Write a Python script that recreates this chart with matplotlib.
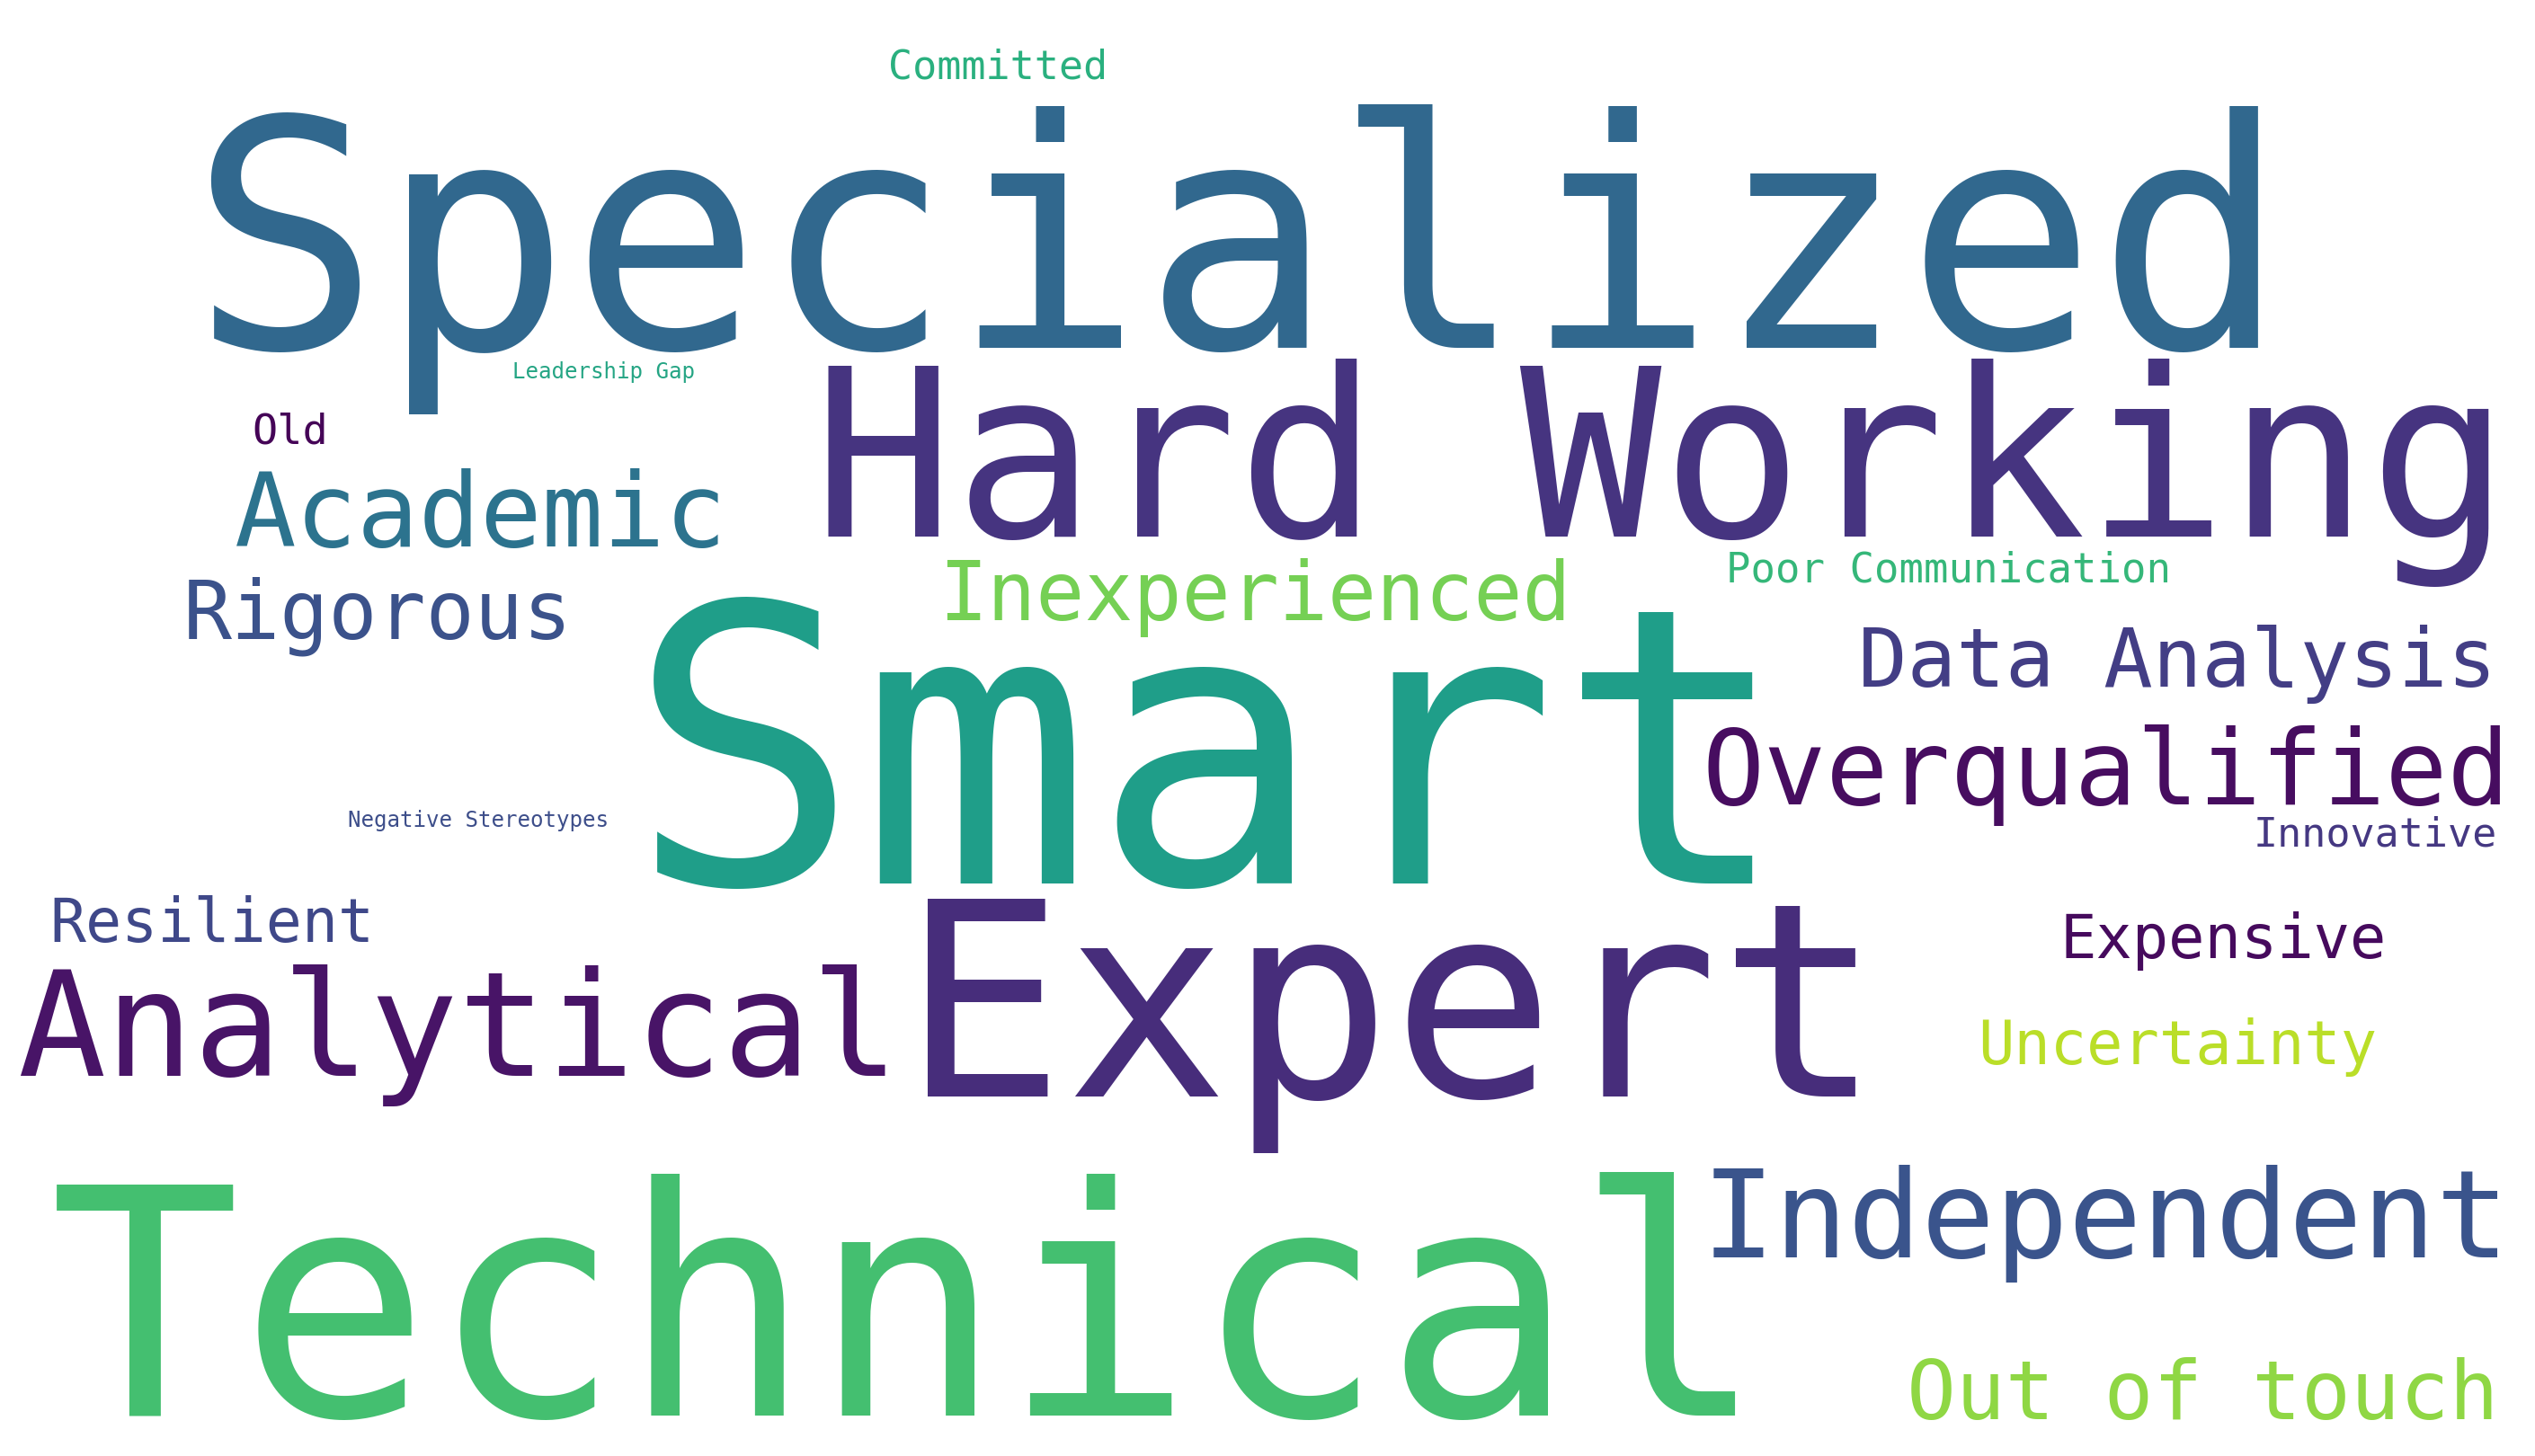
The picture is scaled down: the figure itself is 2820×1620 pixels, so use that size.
import matplotlib
matplotlib.use('Agg')
import matplotlib.pyplot as plt

# 词云数据: 词, 相对频率, 颜色
words = ['Smart', 'Specialized', 'Technical', 'Expert', 'Hard Working',
         'Analytical', 'Independent', 'Academic', 'Overqualified',
         'Out of touch', 'Rigorous', 'Inexperienced', 'Data Analysis',
         'Resilient', 'Expensive', 'Uncertainty', 'Old', 'Committed',
         'Poor Communication', 'Innovative', 'Leadership Gap',
         'Negative Stereotypes']
freqs = [1.00, 0.82, 0.82, 0.702, 0.608,
         0.379, 0.316, 0.265, 0.267,
         0.212, 0.209, 0.209, 0.211,
         0.155, 0.156, 0.156, 0.109, 0.105,
         0.106, 0.105, 0.056,
         0.056]
colors = ['#1f9e89', '#31688e', '#44bf70', '#472d7b', '#463480',
          '#481467', '#3a548c', '#2c738e', '#470d60',
          '#8fd744', '#3b528b', '#75d054', '#433e85',
          '#3f4889', '#460a5d', '#bade28', '#450457', '#2ab07f',
          '#35b779', '#453882', '#25a584',
          '#3d4e8a']

# 布局 (像素): 词中心x, 基线y
layout = [(1345, 983), (1378, 387), (1010, 1575), (1548, 1220), (1848, 597),
          (510, 1197), (2342, 1399), (535, 608), (2343, 895),
          (2450, 1579), (420, 711), (1396, 690), (2422, 764),
          (236, 1048), (2473, 1066), (2422, 1184), (323, 493), (1110, 87),
          (2167, 648), (2642, 942), (672, 421),
          (532, 920)]

W, H, DPI = 2820, 1620, 100
MAX_EM = 430    # 最大字号 (像素)

fig = plt.figure(figsize=(W / DPI, H / DPI), dpi=DPI)
ax = fig.add_axes([0, 0, 1, 1])
ax.set_xlim(0, W)
ax.set_ylim(H, 0)
ax.axis('off')

for word, f, c, (x, y) in zip(words, freqs, colors, layout):
    size_pt = f * MAX_EM * 72 / DPI
    ax.text(x, y, word, fontsize=size_pt, color=c, family='DejaVu Sans Mono',
            ha='center', va='baseline')

fig.savefig('out.png', dpi=DPI, facecolor='white')
